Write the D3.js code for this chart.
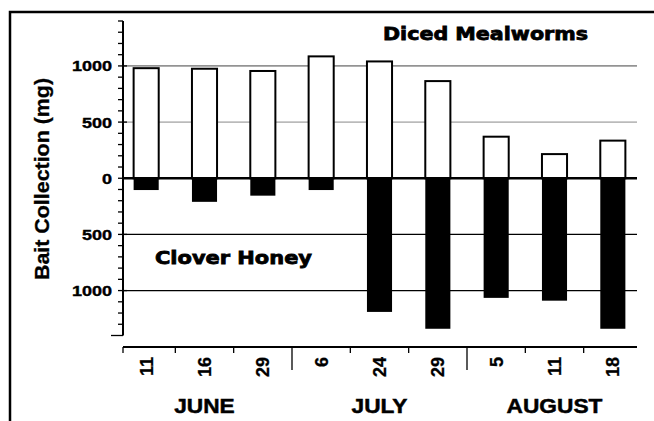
<!DOCTYPE html>
<html>
<head>
<meta charset="utf-8">
<script src="https://cdn.jsdelivr.net/npm/d3@7"></script>
<style>
  body { margin: 0; background: #fff; }
  text { font-family: 'Liberation Sans', Arial, sans-serif; font-weight: bold; fill: #000; }
</style>
</head>
<body>
<script>
// collection dates, grouped by month
const dates = ['11', '16', '29', '6', '24', '29', '5', '11', '18']
const months = ['JUNE', 'JULY', 'AUGUST']
const monthOf = [0, 0, 0, 1, 1, 1, 2, 2, 2]

// bait collected (mg)
const mealworms = [980, 975, 955, 1085, 1040, 865, 370, 215, 335]
const honey = [105, 210, 155, 105, 1190, 1340, 1065, 1090, 1340]

const majorTicks = [-1000, -500, 0, 500, 1000]
const minorTicks = d3.range(-1400, 1401, 100)

const width = 654, height = 421
const axisX = 123, plotRight = 637, xAxisY = 347

const svg = d3.select('body').append('svg')
  .attr('width', width).attr('height', height)

const x = d3.scaleBand()
  .domain(d3.range(dates.length))
  .range([117, 642])
  .paddingInner(0.57)
  .paddingOuter(0.285)
const step = x.step()
const y = d3.scaleLinear().domain([-1400, 1400]).range([335.5, 21])

// widen horizontal text a bit, the original lettering is broad
function stretch(sel, k) {
  sel.each(function () {
    const w = this.getComputedTextLength()
    d3.select(this).attr('textLength', w * k).attr('lengthAdjust', 'spacingAndGlyphs')
  })
}

// frame
svg.append('rect')
  .attr('x', 10).attr('y', 12).attr('width', 700).attr('height', 500)
  .attr('fill', 'none').attr('stroke', '#000').attr('stroke-width', 2.5)

// grid lines
svg.selectAll('.grid')
  .data(majorTicks.filter(d => d !== 0))
  .enter().append('line')
  .attr('x1', axisX).attr('x2', plotRight)
  .attr('y1', d => y(d)).attr('y2', d => y(d))
  .attr('stroke', d => d > 0 ? (d === 1000 ? '#444' : '#888') : '#000')
  .attr('stroke-width', d => d > 0 ? 1 : 1.3)

// mealworm bars (up)
svg.selectAll('.meal')
  .data(mealworms)
  .enter().append('rect')
  .attr('x', (d, i) => x(i))
  .attr('width', x.bandwidth())
  .attr('y', d => y(d))
  .attr('height', d => y(0) - y(d))
  .attr('fill', '#fff').attr('stroke', '#000').attr('stroke-width', 2)

// honey bars (down)
svg.selectAll('.honey')
  .data(honey)
  .enter().append('rect')
  .attr('x', (d, i) => x(i))
  .attr('width', x.bandwidth())
  .attr('y', y(0))
  .attr('height', d => y(-d) - y(0))
  .attr('fill', '#000')

// zero line
svg.append('line')
  .attr('x1', axisX).attr('x2', plotRight)
  .attr('y1', y(0)).attr('y2', y(0))
  .attr('stroke', '#000').attr('stroke-width', 2.5)

// y axis
svg.append('line')
  .attr('x1', axisX).attr('x2', axisX)
  .attr('y1', y(1400)).attr('y2', y(-1400))
  .attr('stroke', '#000').attr('stroke-width', 2)
svg.selectAll('.ytick')
  .data(minorTicks)
  .enter().append('line')
  .attr('x1', d => d === -1400 ? axisX - 12 : axisX - 5)
  .attr('x2', d => majorTicks.includes(d) ? axisX + 4 : axisX)
  .attr('y1', d => y(d)).attr('y2', d => y(d))
  .attr('stroke', '#000').attr('stroke-width', 1.3)

svg.selectAll('.ylab')
  .data(majorTicks)
  .enter().append('text')
  .attr('x', 112)
  .attr('y', d => y(d) + 5.5)
  .attr('text-anchor', 'end')
  .style('font-size', '15px')
  .style('stroke', '#000').style('stroke-width', 0.4)
  .text(d => Math.abs(d))
  .call(stretch, 1.2)

svg.append('text')
  .attr('transform', `translate(49,179) rotate(-90)`)
  .attr('text-anchor', 'middle')
  .style('font-size', '20.5px')
  .style('stroke', '#000').style('stroke-width', 0.3)
  .attr('textLength', 202).attr('lengthAdjust', 'spacingAndGlyphs')
  .text('Bait Collection (mg)')

// x axis
svg.append('line')
  .attr('x1', axisX).attr('x2', plotRight)
  .attr('y1', xAxisY).attr('y2', xAxisY)
  .attr('stroke', '#000').attr('stroke-width', 2)
svg.append('line')
  .attr('x1', axisX).attr('x2', axisX)
  .attr('y1', xAxisY).attr('y2', xAxisY + 6)
  .attr('stroke', '#000').attr('stroke-width', 1.3)
svg.selectAll('.xtick')
  .data(d3.range(1, dates.length))
  .enter().append('line')
  .attr('x1', i => x(i) - step * x.paddingInner() / 2)
  .attr('x2', i => x(i) - step * x.paddingInner() / 2)
  .attr('y1', xAxisY)
  .attr('y2', i => monthOf[i] !== monthOf[i - 1] ? xAxisY + 23 : xAxisY + 6)
  .attr('stroke', '#000').attr('stroke-width', 1.3)

svg.selectAll('.xlab')
  .data(dates)
  .enter().append('text')
  .attr('transform', (d, i) => `translate(${x(i) + x.bandwidth() / 2 + 6.5},357) rotate(-90)`)
  .attr('text-anchor', 'end')
  .style('font-size', '18px')
  .style('stroke', '#000').style('stroke-width', 0.3)
  .text(d => d)

svg.selectAll('.month')
  .data(months)
  .enter().append('text')
  .attr('x', (d, m) => {
    const idx = d3.range(dates.length).filter(i => monthOf[i] === m)
    return (x(idx[0]) + x(idx[idx.length - 1]) + x.bandwidth()) / 2
  })
  .attr('y', 413)
  .attr('text-anchor', 'middle')
  .style('font-size', '21px')
  .style('stroke', '#000').style('stroke-width', 0.5)
  .text(d => d)
  .call(stretch, 1.08)

// series labels
svg.append('text')
  .attr('x', 383).attr('y', 40)
  .style('font-family', "'DejaVu Sans', sans-serif")
  .style('font-size', '18px')
  .style('stroke', '#000').style('stroke-width', 0.8)
  .attr('textLength', 205).attr('lengthAdjust', 'spacingAndGlyphs')
  .text('Diced  Mealworms')

svg.append('text')
  .attr('x', 155).attr('y', 264)
  .style('font-family', "'DejaVu Sans', sans-serif")
  .style('font-size', '18px')
  .style('stroke', '#000').style('stroke-width', 0.8)
  .attr('textLength', 157).attr('lengthAdjust', 'spacingAndGlyphs')
  .text('Clover  Honey')
</script>
</body>
</html>
